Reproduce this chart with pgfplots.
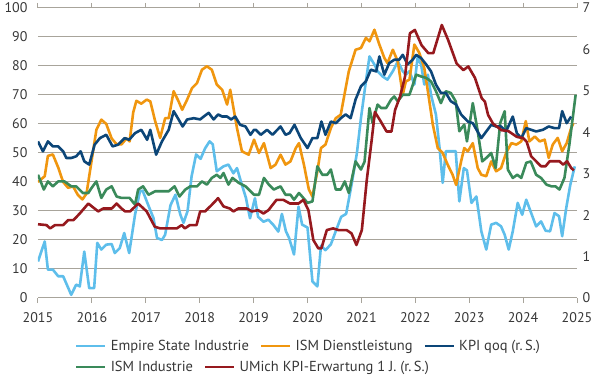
\documentclass[border=0pt]{standalone}
\usepackage{pgfplots}
\pgfplotsset{compat=1.18}
\usepackage{fontspec}
\setmainfont{PT Sans}
\definecolor{cEmp}{RGB}{94,190,235}
\definecolor{cIsmD}{RGB}{240,150,15}
\definecolor{cKpi}{RGB}{12,70,120}
\definecolor{cIsmI}{RGB}{58,138,90}
\definecolor{cUm}{RGB}{150,25,30}
\definecolor{cGrid}{RGB}{168,164,155}
\definecolor{cTxt}{RGB}{55,55,55}
\begin{document}
\begin{tikzpicture}
\useasboundingbox (-38pt,-82pt) rectangle (562pt,298pt);
\pgfplotsset{
  base/.style={scale only axis, width=539pt, height=290pt, xmin=0, xmax=120,
    /pgf/number format/assume math mode=true,
    tick label style={font=\fontsize{14}{16}\selectfont, color=cTxt},
    legend style={draw=none, fill=none, inner sep=0pt, font=\fontsize{14.5}{16}\selectfont, text=cTxt,
      nodes={inner xsep=2pt, inner ysep=1pt}},
    legend cell align=left,
    /tikz/every odd column/.append style={column sep=2pt},
    /tikz/every even column/.append style={column sep=9pt},
    legend image code/.code={\draw[##1,line width=2.6pt] (0pt,0pt) -- (29pt,0pt);},
  }
}
\begin{axis}[base, ymin=0, ymax=100, ytick={0,10,...,100},
  xtick={0,12,...,120}, xticklabels={2015,2016,2017,2018,2019,2020,2021,2022,2023,2024,2025},
  axis line style={draw=none}, ymajorgrids, grid style={cGrid, line width=1pt},
  tick align=outside, major tick length=5pt,
  xtick style={draw=cGrid, line width=1pt}, ytick style={draw=none},
  yticklabel style={xshift=-2pt}, xticklabel style={yshift=-6pt},
  legend columns=3,
  legend style={at={(0.0686,-0.165)}, anchor=west},
  every axis plot/.append style={line width=2.6pt, line join=round}]
\addplot[cEmp] coordinates {(0,12.6)(1.5,19.5)(2.2,9.8)(3.3,9.8)(4.5,7.5)(5.6,7.5)(7.4,1.1)(8.5,4.6)(9.3,4)(10.3,16)(11.4,3.4)(12.5,3.4)(13.2,19)(14.1,16.7)(15.2,18.4)(16.4,18.6)(17.1,15.5)(18.2,17.2)(19.2,22.4)(20.3,15.5)(21.6,28.7)(22.7,36.8)(23.3,37)(24.3,33)(25.7,27.6)(26.5,20.7)(27.6,20)(28.3,21.8)(29.5,32)(30.6,35.6)(31.7,28.7)(32.4,25.9)(33.3,30)(34.2,42)(35.2,49.5)(36.2,48)(37.2,51.6)(38.2,54)(38.9,53)(39.8,43.7)(41.3,45.4)(42.4,46)(43.5,43)(44.3,44.8)(45.3,39.5)(46.3,34.5)(47.2,27.5)(48.3,34.4)(49,28)(50.2,26.3)(51.3,27)(52.4,25.2)(53.5,22.9)(54.3,29)(55.2,23)(55.9,20.7)(57,15)(58,31.5)(58.8,25.3)(60,24.3)(61.1,5.7)(62.2,4)(63,18)(64,16.5)(65.2,18.5)(66.4,23.5)(67.5,28)(68.6,29)(69.8,39)(71,50)(71.9,62)(73,74.7)(73.8,83.3)(74.9,80.5)(75.6,78.2)(76.7,76.4)(77.8,75.3)(79,78.2)(80.1,81.6)(81.2,78.2)(81.9,77)(82.7,78.2)(83.8,73.6)(84.5,82.8)(85.3,80.5)(86,73.6)(86.8,77)(87.5,70.1)(88.6,63.2)(89.4,51.7)(90.1,39.7)(90.8,50.6)(91.9,50.6)(93,50.6)(93.8,33.3)(94.8,44.8)(95.5,44)(96.5,32.8)(97.6,35)(98.7,23)(99.8,16.7)(100.9,25.3)(102,25.9)(103.1,24.7)(103.9,21.8)(104.8,16.7)(105.7,23)(106.8,32.8)(107.8,28.7)(108.7,33.9)(109.8,29.3)(110.9,24.7)(112,26.4)(113,23.2)(114,23)(115,29.3)(116,28.2)(116.7,21.3)(117.6,31)(118.5,39)(119.5,45.4)};
\addlegendentry{Empire State Industrie}
\addplot[cIsmD] coordinates {(0,40)(1.5,42)(2.2,49)(3.3,49.5)(4.5,45)(5.6,40)(6.7,38)(7.8,38.5)(8.9,35.5)(9.9,34)(10.8,36)(11.9,47)(13,58)(14.1,61.5)(15.2,60)(16.4,55)(17.5,53)(18.6,53)(19.7,55)(20.4,54)(21.2,64)(21.9,68)(23,67)(24.2,68.4)(25,67.8)(26.1,60.9)(27.2,55.2)(28.3,62)(29.1,62)(30.2,71.3)(31.3,67.8)(32.1,64.9)(33.2,68.4)(34.3,72.4)(35.4,74.1)(36.5,78.7)(37.6,79.9)(38.7,78.7)(39.8,73.6)(41,71.8)(42.1,66.7)(42.8,71.8)(44.3,58.6)(45.4,50.6)(46.9,49.4)(48.1,54.6)(49.2,50)(50.3,53.4)(51.8,44.8)(52.9,46)(54,49.4)(55.1,46)(56.2,47.1)(57.4,51.7)(58.1,53.4)(59.2,46)(60.3,37.4)(61.1,35)(62.2,43.7)(63,51.7)(64,52.9)(65.2,58.6)(66.3,62)(67.4,63.2)(68.5,72.4)(69.2,78.2)(70.7,85.6)(71.9,86.2)(73,89.7)(73.8,88.5)(74.9,92.5)(76,87.4)(77.1,82.8)(77.8,81)(79,85.6)(80.1,81.6)(81.2,70.1)(81.9,74.7)(82.7,75.3)(83.8,87.4)(84.9,84.5)(86,79.3)(86.8,71.3)(87.9,59.8)(89,51.7)(90.1,50)(91.2,46)(92.3,42.5)(93.1,39)(94.2,47.1)(94.9,51.7)(95.7,50.6)(96.8,53.4)(97.9,44.8)(98.7,42.5)(99.8,42)(100.9,47.1)(102,43.7)(103.1,44.8)(104.2,50)(105.4,53.4)(106.5,52.9)(107.6,54)(108.6,61)(109.4,54)(110.6,55.7)(111.7,54)(112.8,54.6)(113.7,48.3)(114.6,52.9)(115.7,55.2)(116.7,50.6)(117.7,53.4)(118.7,58.6)(119.2,60.3)};
\addlegendentry{ISM Dienstleistung}
\addplot[cIsmI, forget plot] coordinates {(0,42.5)(1.3,37.4)(2.2,40.2)(3.3,38.5)(4.5,40.2)(5.9,40.2)(7.4,38.5)(8.5,38.5)(10,36.2)(11.2,36.2)(11.9,37.9)(13,40.2)(14.1,34.5)(15.2,37.4)(16.4,38.5)(17.5,35)(18.6,34.5)(20.4,34.5)(21.6,32.2)(22.3,37.4)(23.4,38.5)(24.6,35.6)(26.1,36.8)(27.6,36.8)(29.1,36.8)(30.4,38.5)(31.5,35)(32.8,37.4)(33.9,38.5)(35.4,38.5)(36.5,40.2)(37.6,39.1)(38.7,41.4)(39.8,42.5)(40.6,41.4)(41.3,43.1)(42.4,39.1)(43.3,41.4)(44.7,39.7)(46.2,38.5)(47.3,36.8)(48.1,35.6)(49.2,35.6)(50.3,41.4)(51.4,39.1)(52.5,37.4)(54,38.5)(55.1,35.6)(56.2,35.6)(57,33.9)(58.1,36.2)(58.8,35)(60,32.8)(61.1,33.3)(62.2,45.4)(63.3,42.5)(64.4,42.5)(65.2,44.3)(66.3,37.4)(67.4,37.4)(68.3,40.2)(69.2,36.2)(70.7,47.1)(71.9,44.3)(72.7,47)(73.8,65.5)(74.5,60.3)(75.6,66.7)(76.4,65.5)(77.5,65.5)(78.6,68.4)(79.3,69.5)(80.1,67.8)(81.2,70.1)(82.7,70.1)(84.2,77)(85.3,76.4)(86.4,75.9)(87.5,74.7)(88.6,71.3)(89.7,67.2)(90.8,71.3)(91.9,70.7)(93,67.8)(93.8,57.5)(94.9,59.8)(95.5,54)(96.8,67.2)(97.9,57.5)(98.9,47.1)(99.8,48.3)(100.9,50)(101.9,44.8)(102.9,60.3)(103.9,64.4)(104.6,44.3)(105.7,41.4)(106.7,42.5)(107.6,41.4)(108.7,46.6)(109.7,47.1)(110.9,42.5)(112,41.4)(113.2,39.1)(114.3,38.5)(115.2,38.5)(116.1,37.4)(117.2,41.4)(118.3,52.9)(119.7,70.1)};
\addlegendimage{cKpi}
\addlegendentry{KPI qoq (r.\,S.)}
\end{axis}
\begin{axis}[base, ymin=0, ymax=7, ytick={0,1,...,7},
  hide x axis, axis y line*=right, y axis line style={draw=none}, ytick style={draw=none},
  yticklabel style={xshift=2pt, anchor=west},
  legend columns=2,
  legend style={at={(0.0686,-0.238)}, anchor=west},
  every axis plot/.append style={line width=2.6pt, line join=round}]
\addlegendimage{cIsmI}
\addlegendentry{ISM Industrie}
\addplot[cKpi, forget plot] coordinates {(0,3.78)(1.1,3.54)(2.2,3.78)(3.3,3.66)(4.5,3.66)(5.6,3.54)(6.3,3.38)(7.4,3.38)(8.5,3.42)(9.5,3.54)(10.3,3.30)(11.4,3.22)(12.6,3.70)(13.8,3.86)(15.2,3.94)(16.6,3.66)(17.8,3.70)(19.3,3.86)(20.3,3.82)(21.6,3.98)(23,4.06)(24.3,3.82)(25,4.06)(26.3,3.46)(27.6,3.78)(29.1,4.06)(30.2,4.51)(31.3,4.31)(32.2,4.14)(33.2,4.31)(34.7,4.34)(36.1,4.31)(36.9,4.38)(38,4.47)(39.1,4.31)(40.1,4.43)(41,4.38)(42.1,4.38)(43,4.31)(43.9,4.38)(45,4.18)(46.2,4.14)(47.3,3.94)(48.1,4.06)(48.5,4.06)(49.6,3.94)(51,4.06)(52.2,3.94)(54,4.14)(55.1,3.94)(56,3.98)(57.1,4.18)(58.5,3.86)(60,3.62)(61.1,3.86)(62.2,3.86)(63.1,4.26)(64,3.94)(65.2,4.26)(66.3,4.22)(67.4,4.34)(68.5,4.43)(69.6,4.34)(70.7,4.79)(71.9,5.11)(73,5.23)(74.1,5.51)(75.3,5.47)(76,5.83)(77.1,5.39)(78.2,5.67)(79.3,5.75)(80.4,5.75)(81.2,5.87)(82.3,5.64)(83.4,5.75)(84.2,5.87)(85.3,5.79)(86.4,5.64)(87.5,5.47)(88.6,5.15)(89.7,4.95)(90.8,4.95)(91.9,4.75)(93.1,4.67)(94.2,4.43)(95.7,4.26)(96.8,4.22)(98.7,3.86)(99.8,4.02)(100.9,4.18)(102,4.14)(103.1,4.14)(104.2,4.02)(105.7,4.38)(106.6,3.98)(107.6,3.86)(108.7,4.10)(109.8,4.06)(110.9,4.02)(112.4,4.06)(113.7,4.14)(115,4.10)(116,4.10)(116.7,4.51)(117.7,4.22)(118.7,4.38)};
\addplot[cUm] coordinates {(0,1.78)(1.9,1.76)(2.7,1.68)(3.8,1.76)(5.6,1.76)(6.7,1.88)(7.9,1.88)(9.3,2.04)(11.2,2.28)(13.4,2.09)(14.5,2.16)(16.4,2.16)(17.5,2.28)(18.6,2.16)(19.4,2.09)(20.5,2.09)(22.3,2.28)(24.2,2.09)(26,1.72)(27.2,1.68)(29.4,1.68)(30.9,1.68)(32,1.76)(32.7,1.68)(33.8,1.76)(35.3,1.76)(36.1,2.09)(37.2,2.09)(38.7,2.25)(40.1,2.41)(41.3,2.21)(42.7,2.16)(43.5,2.09)(44.6,2.16)(46.5,2.16)(47.6,2.09)(49,2.12)(50.2,2.04)(51.3,2.12)(53.1,2.37)(54.6,2.37)(56.1,2.28)(58,2.28)(59.1,2.37)(60.2,2.12)(61.3,1.40)(62.4,1.20)(63.1,1.20)(64.3,1.64)(65.7,1.68)(66.9,1.64)(68.7,1.64)(69.8,1.56)(70.9,1.28)(72.1,1.64)(73.2,2.85)(74.3,3.82)(75,4.49)(76.1,4.30)(77.6,4.02)(78.7,4.02)(79.5,4.54)(80.6,4.86)(81.7,5.34)(82.8,6.39)(83.9,6.47)(85.4,6.10)(86.9,5.91)(88,5.91)(89.9,6.59)(91.3,6.23)(93.2,5.66)(94.7,5.50)(95.8,5.59)(97.3,5.31)(98.8,4.82)(99.5,4.74)(100.2,4.42)(101.3,4.21)(103.2,4.05)(104.7,4.03)(106.6,3.89)(108,3.86)(108.8,3.77)(109.8,3.42)(110.9,3.30)(112,3.18)(113,3.18)(113.9,3.30)(115.2,3.30)(116.1,3.30)(116.9,3.22)(117.8,3.30)(118.7,3.14)(119.3,3.08)};
\addlegendentry{UMich KPI-Erwartung 1 J. (r.\,S.)}
\end{axis}
\end{tikzpicture}
\end{document}
